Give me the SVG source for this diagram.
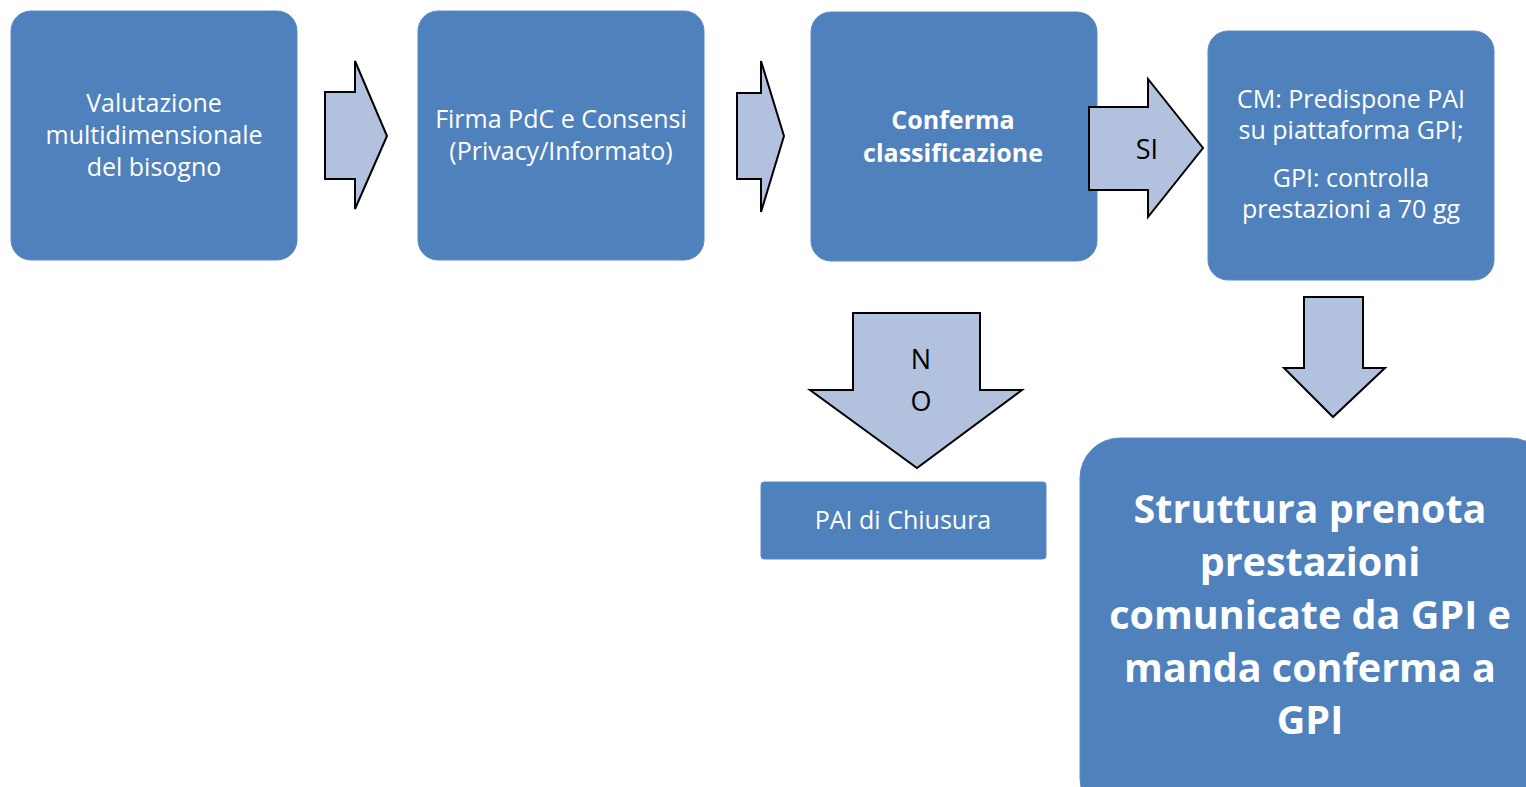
<svg xmlns="http://www.w3.org/2000/svg" width="1526" height="787" viewBox="0 0 1526 787">
<style>
.box{fill:#4F81BD;stroke:#5A8AC6;stroke-width:1}
.arr{fill:#B2C1DE;stroke:#000;stroke-width:2;stroke-linejoin:miter}
.t{font-family:"Open Sans","Noto Sans",sans-serif;fill:#fff;text-anchor:middle;font-size:25px}
.b{font-weight:bold}
.k{font-family:"Open Sans","Noto Sans",sans-serif;fill:#000;text-anchor:middle;font-size:27px}
</style>
<rect width="1526" height="787" fill="#fff"/>
<g id="n1">
<rect class="box" x="11" y="11" width="286" height="249" rx="20"/>
<text class="t" x="154" y="112">Valutazione</text>
<text class="t" x="154" y="144">multidimensionale</text>
<text class="t" x="154" y="176">del bisogno</text>
</g>
<g id="n2">
<rect class="box" x="418" y="11" width="286" height="249" rx="20"/>
<text class="t" x="561" y="128">Firma PdC e Consensi</text>
<text class="t" x="561" y="160">(Privacy/Informato)</text>
</g>
<g id="n3">
<rect class="box" x="811" y="12" width="286" height="249" rx="20"/>
<text class="t b" x="953" y="129">Conferma</text>
<text class="t b" x="953" y="162">classificazione</text>
</g>
<g id="n4">
<rect class="box" x="1208" y="31" width="286" height="249" rx="20"/>
<text class="t" x="1351" y="108">CM: Predispone PAI</text>
<text class="t" x="1351" y="139">su piattaforma GPI;</text>
<text class="t" x="1351" y="187">GPI: controlla</text>
<text class="t" x="1351" y="218">prestazioni a 70 gg</text>
</g>
<g id="n5">
<rect class="box" x="761" y="482" width="285" height="77" rx="3"/>
<text class="t" x="903" y="529">PAI di Chiusura</text>
</g>
<g id="n6">
<rect class="box" x="1080" y="438" width="470" height="380" rx="40"/>
<text class="t b" x="1310" y="523" style="font-size:39.5px">Struttura prenota</text>
<text class="t b" x="1310" y="576" style="font-size:39.5px">prestazioni</text>
<text class="t b" x="1310" y="629" style="font-size:39.5px">comunicate da GPI e</text>
<text class="t b" x="1310" y="682" style="font-size:39.5px">manda conferma a</text>
<text class="t b" x="1310" y="734" style="font-size:39.5px">GPI</text>
</g>
<g id="connectors">
<polygon class="arr" points="325,92 355,92 355,61 387,136 355,209 355,179 325,179"/>
<polygon class="arr" points="737,93 761,93 761,61 784,136 761,212 761,179 737,179"/>
<g id="arrow-si">
<polygon class="arr" points="1089,107 1148,107 1148,79 1203,148 1148,217 1148,190 1089,190"/>
<text class="k" x="1147" y="159">SI</text>
</g>
<g id="arrow-no">
<polygon class="arr" points="853,313 980,313 980,390 1022,390 917,468 810,390 853,390"/>
<text class="k" x="921" y="369">N</text>
<text class="k" x="921" y="411">O</text>
</g>
<polygon class="arr" points="1304,297 1363,297 1363,368 1385,368 1333,417 1284,368 1304,368"/>
</g>
</svg>
